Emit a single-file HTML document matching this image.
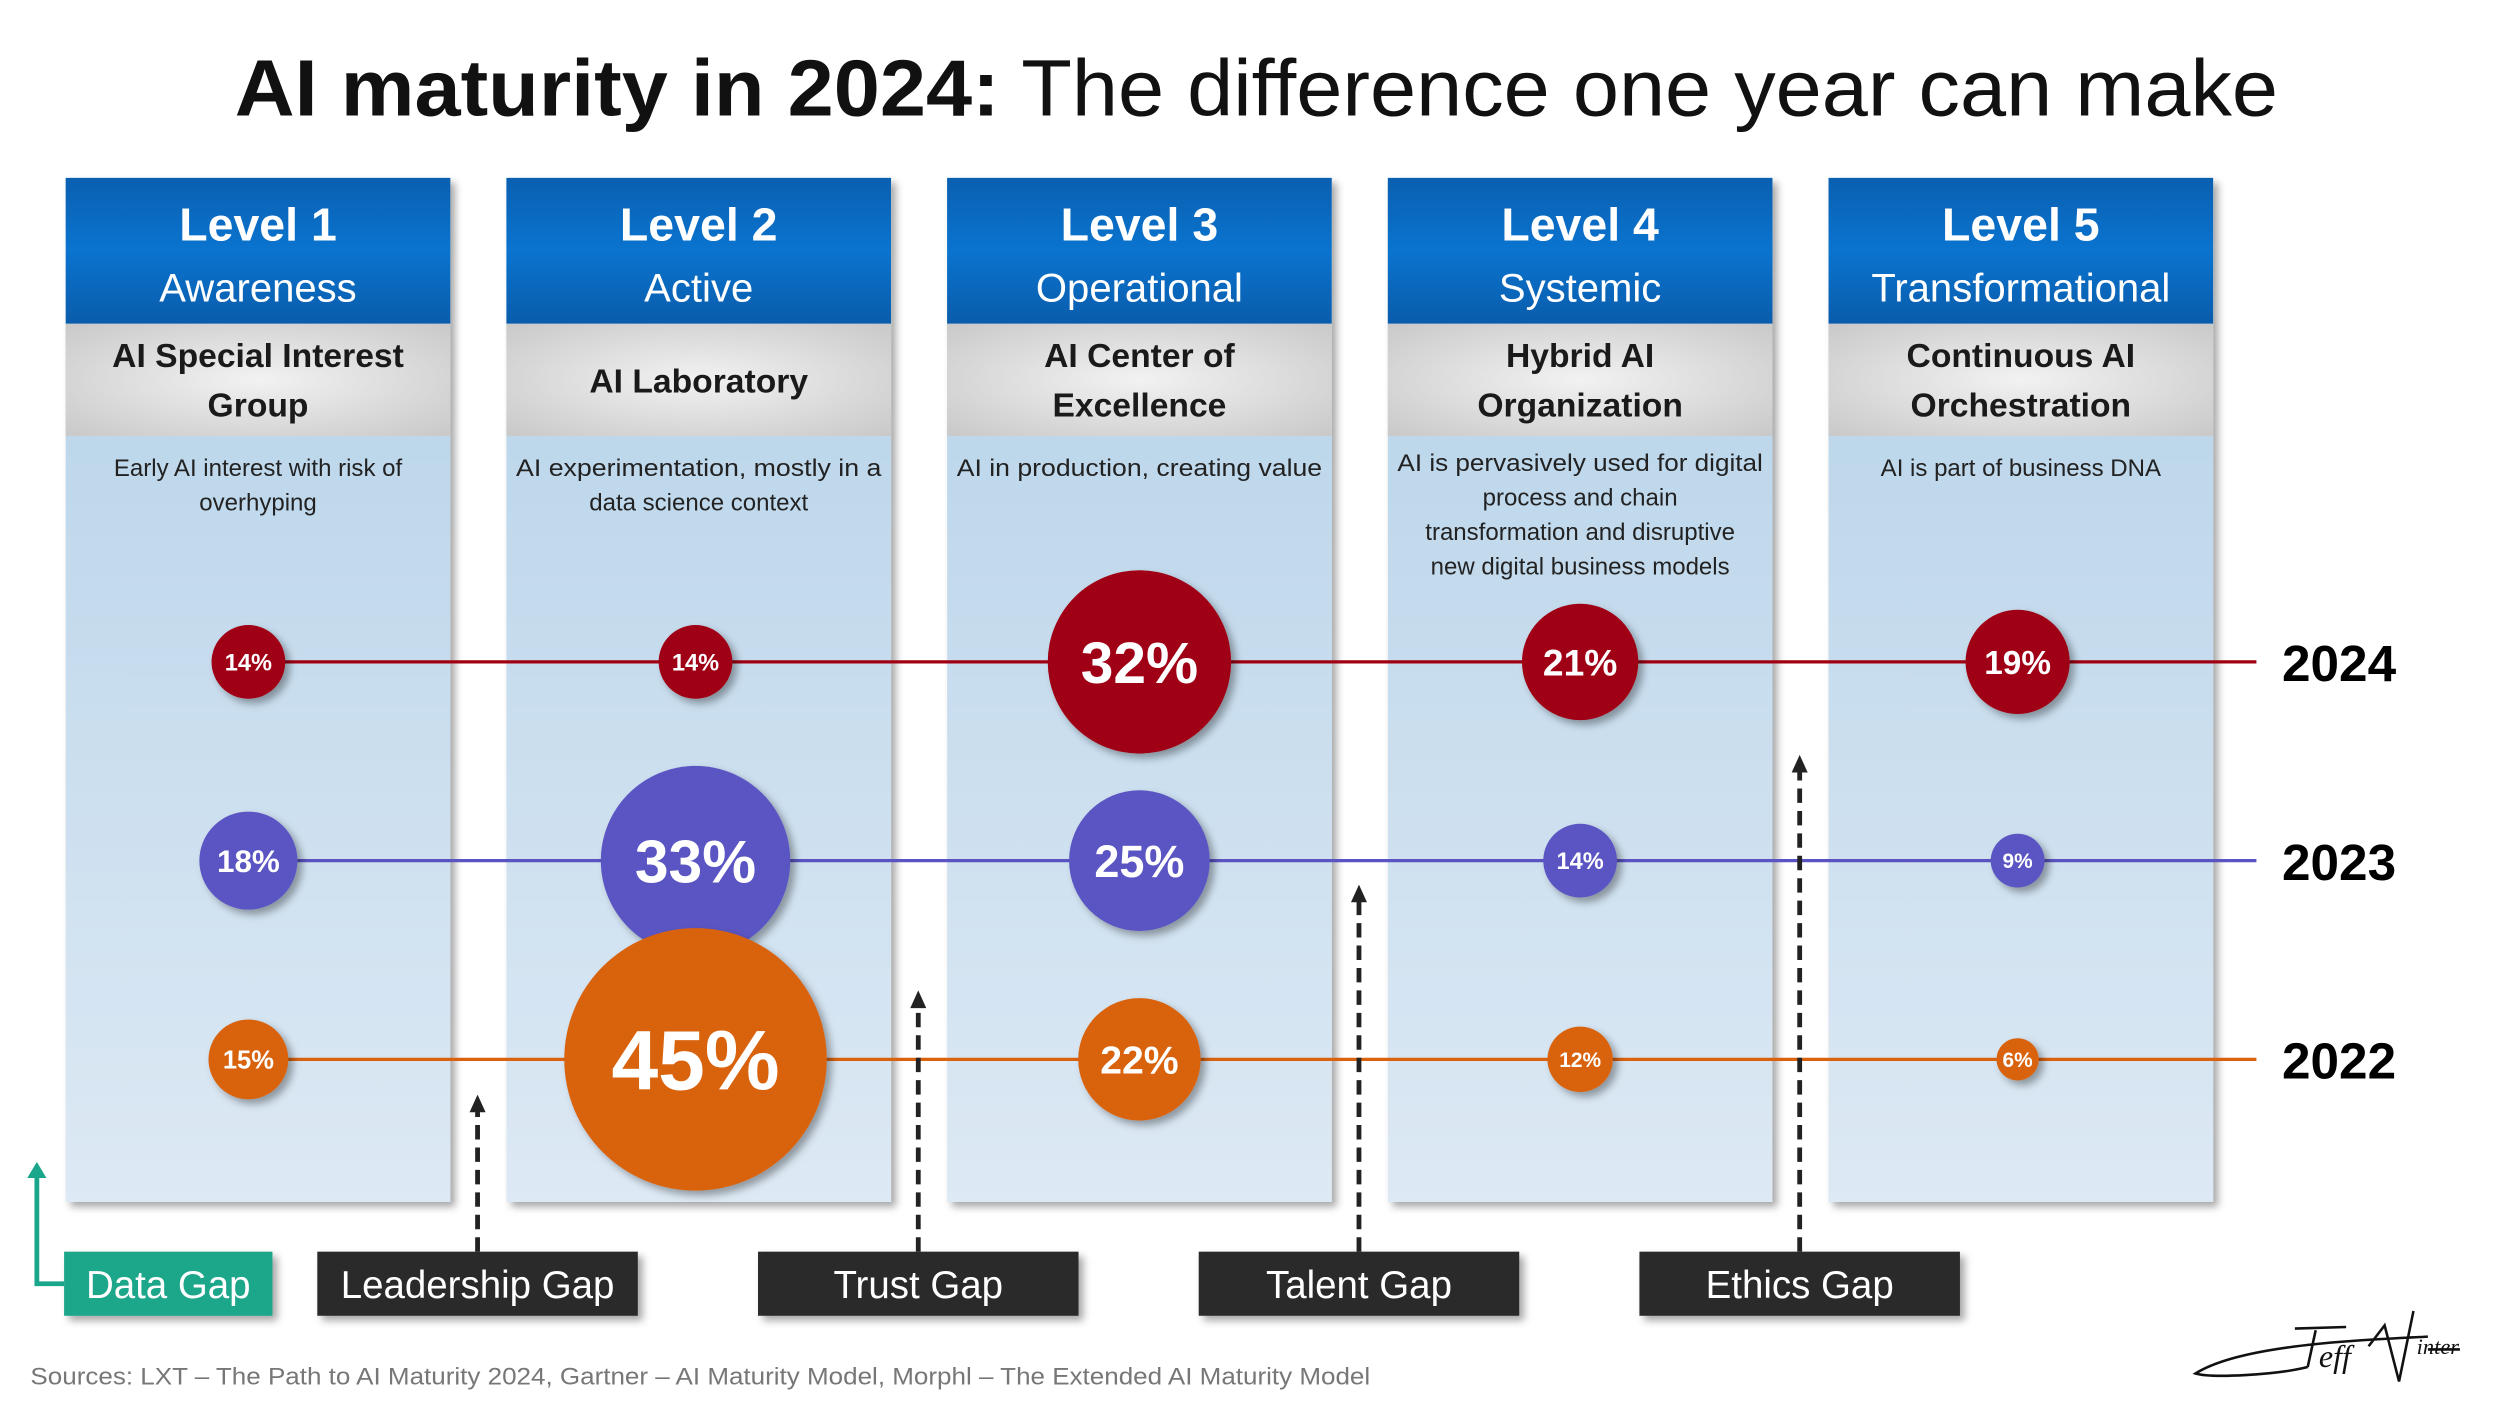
<!DOCTYPE html>
<html><head><meta charset="utf-8"><style>
html,body{margin:0;padding:0;background:#fff;}
svg{display:block;font-family:"Liberation Sans",sans-serif;}
</style></head><body>
<svg id="chart" width="2500" height="1406" viewBox="0 0 1560 877.3" preserveAspectRatio="none" xmlns="http://www.w3.org/2000/svg">
<defs>
<linearGradient id="gBlue" x1="0" y1="0" x2="0" y2="1"><stop offset="0" stop-color="#0a5fb0"/><stop offset="0.5" stop-color="#0a74cf"/><stop offset="1" stop-color="#0a5cab"/></linearGradient>
<radialGradient id="gGray" cx="0.5" cy="0.5" r="0.7"><stop offset="0" stop-color="#f2f2f2"/><stop offset="1" stop-color="#c9c9c9"/></radialGradient>
<linearGradient id="gBody" x1="0" y1="0" x2="0" y2="1"><stop offset="0" stop-color="#b3d1e8"/><stop offset="1" stop-color="#dde9f4"/></linearGradient>
<filter id="sh" x="-20%" y="-20%" width="150%" height="150%"><feDropShadow dx="3" dy="3" stdDeviation="2.5" flood-color="#000" flood-opacity="0.35"/></filter>
</defs>
<text x="784" y="72" text-anchor="middle" font-size="50" fill="#111" textLength="1275" lengthAdjust="spacingAndGlyphs"><tspan font-weight="bold">AI maturity in 2024:</tspan> The difference one year can make</text>
<g id="cols"></g>
<g id="lines"></g>
<g id="gaps"></g>
<text x="19" y="864" font-size="15" fill="#777" textLength="836" lengthAdjust="spacingAndGlyphs">Sources: LXT – The Path to AI Maturity 2024, Gartner – AI Maturity Model, Morphl – The Extended AI Maturity Model</text>
<g fill="none" stroke="#111" stroke-width="1.6">
<path d="M1515 834 C1480 836 1400 838 1370 857 C1380 860 1420 858 1440 853"/>
<path d="M1440 853 L1445 830 M1432 829 L1464 828"/>
<text x="1447" y="853" font-size="20" font-style="italic" fill="#111" stroke="none" font-family="Liberation Serif, serif">eff</text>
<path d="M1478 840 L1488 827 L1497 862 L1506 818"/>
<text x="1508" y="845" font-size="14" font-style="italic" fill="#111" stroke="none" font-family="Liberation Serif, serif">inter</text>
<path d="M1535 842 L1515 842"/>
</g>
</svg>
<script>
const levelTitles = ["Level 1","Level 2","Level 3","Level 4","Level 5"];
const levelNames = ["Awareness","Active","Operational","Systemic","Transformational"];
const orgNames = [["AI Special Interest","Group"],["AI Laboratory"],["AI Center of","Excellence"],["Hybrid AI","Organization"],["Continuous AI","Orchestration"]];
const descriptions = [["Early AI interest with risk of","overhyping"],["AI experimentation, mostly in a","data science context"],["AI in production, creating value"],["AI is pervasively used for digital","process and chain","transformation and disruptive","new digital business models"],["AI is part of business DNA"]];
const years = ["2024","2023","2022"];
const values2024 = [14,14,32,21,19];
const values2023 = [18,33,25,14,9];
const values2022 = [15,45,22,12,6];
const gapNames = ["Data Gap","Leadership Gap","Trust Gap","Talent Gap","Ethics Gap"];

const NS="http://www.w3.org/2000/svg";
function mk(tag,attrs,parent){const e=document.createElementNS(NS,tag);for(const k in attrs)e.setAttribute(k,attrs[k]);parent.appendChild(e);return e;}
const colX = i => 41 + i*275;
const colW = 240;
const colCx = i => colX(i) + 120;
const yearY = i => 413 + i*124;
const rScale = v => Math.max(1.9*v - 3.6, 1.2*v + 6);
const yearColors = ["#a00012","#5a54c2","#d9620f"];
const series = [values2024, values2023, values2022];

const cols=document.getElementById('cols');
levelTitles.forEach((t,i)=>{
  const g=mk('g',{},cols);
  
  
  mk('rect',{x:colX(i),y:111,width:colW,height:639,fill:'url(#gBody)',filter:'url(#sh)'},g);
  mk('rect',{x:colX(i),y:111,width:colW,height:91,fill:'url(#gBlue)'},g);
  mk('rect',{x:colX(i),y:202,width:colW,height:70,fill:'url(#gGray)'},g);
  const h=mk('text',{x:colCx(i),y:150,'text-anchor':'middle','font-size':29,'font-weight':'bold',fill:'#fff'},g);h.textContent=t;
  
  
  const s=mk('text',{x:colCx(i),y:188,'text-anchor':'middle','font-size':25,fill:'#fff'},g);s.textContent=levelNames[i];
  
  
  const o=orgNames[i];
  o.forEach((line,j)=>{
    const y = o.length===1 ? 245 : 229+j*31;
    const tt=mk('text',{x:colCx(i),y:y,'text-anchor':'middle','font-size':21,'font-weight':'bold',fill:'#1a1a1a'},g);tt.textContent=line;
    
    
  });
  const d=descriptions[i];
  d.forEach((line,j)=>{
    const tt=mk('text',{x:colCx(i),y:(d.length>2?294:297)+j*21.5,'text-anchor':'middle','font-size':15,fill:'#222'},g);tt.textContent=line;
    if(line.length>30){tt.setAttribute('textLength',228);tt.setAttribute('lengthAdjust','spacingAndGlyphs');}
    
    
  });
});

const lines=document.getElementById('lines');
years.forEach((yr,k)=>{
  const y=yearY(k);
  const g=mk('g',{},lines);
  
  
  const ln=mk('line',{x1:colCx(0)-6,x2:1408,y1:y,y2:y,stroke:yearColors[k],'stroke-width':2},g);
  
  
  series[k].forEach((v,i)=>{
    const r=rScale(v);
    const cx=colCx(i)-(i===0?6:0)-(i===1?2:0)-(i===4?2:0);
    const c=mk('circle',{cx:cx,cy:y,r:r,fill:yearColors[k],filter:'url(#sh)'},g);
    
    
    const fs=Math.max(13,r*0.64);
    const tx=mk('text',{x:cx,y:y+fs*0.36,'text-anchor':'middle','font-size':fs,'font-weight':'bold',fill:'#fff'},g);
    tx.textContent=v+'%';
    
    
  });
  const yl=mk('text',{x:1424,y:y+12,'font-size':32,'font-weight':'bold',fill:'#000'},g);yl.textContent=yr;
  
  
});

const gaps=document.getElementById('gaps');
const arrowTop=[725,683,618,552,471];
gapNames.forEach((n,i)=>{
  const g=mk('g',{},gaps);
  
  
  const cx = i===0 ? 105 : 298+(i-1)*275;
  const w = i===0 ? 130 : 200;
  if(i===0){
    mk('path',{d:'M40 801 L23 801 L23 '+(arrowTop[0]+8),fill:'none',stroke:'#1aa68a','stroke-width':3},g);
    mk('path',{d:'M17 735 L23 '+arrowTop[0]+' L29 735 Z',fill:'#1aa68a'},g);
  } else {
    mk('line',{x1:cx,x2:cx,y1:781,y2:arrowTop[i]+8,stroke:'#222','stroke-width':3,'stroke-dasharray':'9 5'},g);
    mk('path',{d:'M'+(cx-5)+' '+(arrowTop[i]+11)+' L'+cx+' '+arrowTop[i]+' L'+(cx+5)+' '+(arrowTop[i]+11)+' Z',fill:'#222'},g);
  }
  const b=mk('rect',{x:cx-w/2,y:781,width:w,height:40,fill:i===0?'#1aa68a':'#2b2b2b',filter:'url(#sh)'},g);
  
  
  const t=mk('text',{x:cx,y:810,'text-anchor':'middle','font-size':24,fill:'#fff'},g);t.textContent=n;
  
  
});
</script>
</body></html>
